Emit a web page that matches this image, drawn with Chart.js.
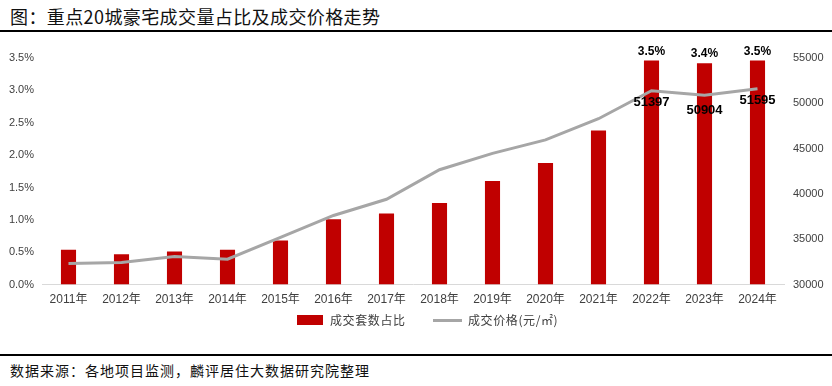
<!DOCTYPE html>
<html>
<head>
<meta charset="utf-8">
<script src="https://cdn.jsdelivr.net/npm/chart.js@4"></script>
<style>
  body { margin: 0; width: 832px; height: 386px; background: #fff; position: relative; overflow: hidden;
         font-family: "Liberation Sans", "Noto Sans CJK SC", sans-serif; }
  #title { position: absolute; left: 0; top: 0; width: 832px; height: 32px; border-bottom: 2px solid #000;
           font-size: 18px; line-height: 32px; padding-left: 10px; box-sizing: border-box; color: #111;
           letter-spacing: 0.4px; font-family: "Noto Sans CJK SC", sans-serif; }
  #box { position: absolute; left: 0; top: 34px; width: 832px; height: 285px; }
  #legend { position: absolute; left: 0; top: 312px; width: 832px; height: 16px; font-size: 12px;
            color: #404040; font-family: "Noto Sans CJK SC", sans-serif; letter-spacing: 0.6px; }
  #legend span { position: absolute; top: 0; line-height: 16px; white-space: nowrap; }
  #legend i { position: absolute; display: block; }
  #foot { position: absolute; left: 0; top: 354px; width: 832px; height: 32px; border-top: 2px solid #000;
          font-size: 14px; line-height: 28px; padding-left: 10px; box-sizing: border-box; color: #111;
          letter-spacing: 1px; font-family: "Noto Sans CJK SC", sans-serif; }
</style>
</head>
<body>
<div id="title">图：重点20城豪宅成交量占比及成交价格走势</div>
<div id="box"><canvas id="chart"></canvas></div>
<div id="legend"></div>
<div id="foot">数据来源：各地项目监测，麟评居住大数据研究院整理</div>
<script>
var years = ['2011年', '2012年', '2013年', '2014年', '2015年', '2016年', '2017年',
             '2018年', '2019年', '2020年', '2021年', '2022年', '2023年', '2024年'];
// share of luxury home transactions (%)
var shareValues = [0.54, 0.47, 0.51, 0.54, 0.68, 1.01, 1.10, 1.26, 1.60, 1.88, 2.38, 3.46, 3.42, 3.46];
// average price (yuan / m2)
var priceValues = [32330, 32450, 33100, 32800, 35200, 37630, 39410, 42670, 44480, 45960, 48300, 51397, 50904, 51595];
var shareTicks = [0, 0.5, 1.0, 1.5, 2.0, 2.5, 3.0, 3.5];
var priceTicks = [30000, 35000, 40000, 45000, 50000, 55000];
var seriesNames = ['成交套数占比', '成交价格(元/㎡)'];
var seriesColors = ['#C00000', '#A6A6A6'];
var labelFrom = 11; // only the last three years carry value labels

var valueLabels = {
    id: 'valueLabels',
    afterDatasetsDraw: function(chart) {
        var ctx = chart.ctx;
        var bars = chart.getDatasetMeta(0).data;
        var pts = chart.getDatasetMeta(1).data;
        ctx.save();
        ctx.textAlign = 'center';
        ctx.textBaseline = 'middle';
        ctx.fillStyle = '#000';
        for (var i = labelFrom; i < years.length; i++) {
            ctx.font = 'bold 12px "Liberation Sans"';
            ctx.fillText(shareValues[i].toFixed(1) + '%', bars[i].x, bars[i].y - 9);
            ctx.font = 'bold 13px "Liberation Sans"';
            ctx.fillText(String(priceValues[i]), pts[i].x, pts[i].y + (i === 12 ? 15 : 12));
        }
        ctx.restore();
    }
};

// simple html legend, spaced like the original
function buildLegend() {
    var el = document.getElementById('legend');
    var lefts = [297, 433];
    seriesNames.forEach(function(name, i) {
        var mark = document.createElement('i');
        mark.style.left = lefts[i] + 'px';
        mark.style.width = (i === 0 ? 26 : 29) + 'px';
        mark.style.height = (i === 0 ? 10 : 3) + 'px';
        mark.style.top = (i === 0 ? 3 : 7) + 'px';
        mark.style.background = seriesColors[i];
        el.appendChild(mark);
        var txt = document.createElement('span');
        txt.textContent = name;
        txt.style.left = (lefts[i] + (i === 0 ? 33 : 35)) + 'px';
        el.appendChild(txt);
    });
}
buildLegend();

var ctx = document.getElementById('chart');

var myChart = new Chart(ctx, {
    type: 'bar',
    data: {
        labels: years,
        datasets: [{
            label: seriesNames[0],
            data: shareValues,
            backgroundColor: seriesColors[0],
            yAxisID: 'y',
            categoryPercentage: 1,
            barPercentage: 0.285,
            order: 2
        }, {
            type: 'line',
            label: seriesNames[1],
            data: priceValues,
            borderColor: seriesColors[1],
            backgroundColor: seriesColors[1],
            borderWidth: 3,
            pointRadius: 0,
            tension: 0,
            yAxisID: 'y1',
            order: 1
        }]
    },
    options: {
        responsive: true,
        maintainAspectRatio: false,
        animation: false,
        layout: { padding: { top: 24, right: 0, left: 0, bottom: 4 } },
        plugins: {
            tooltip: { enabled: false },
            legend: { display: false }
        },
        scales: {
            x: {
                grid: { display: false, drawTicks: false },
                border: { display: true, color: '#D9D9D9', width: 1 },
                ticks: { color: '#404040', padding: 8, maxRotation: 0,
                         font: { size: 12, family: '"Liberation Sans", "Noto Sans CJK SC"' } }
            },
            y: {
                position: 'left',
                min: 0,
                max: 3.5,
                grid: { display: false, drawTicks: false },
                border: { display: false },
                afterFit: function(scale) { scale.width = 42; },
                afterBuildTicks: function(scale) {
                    scale.ticks = shareTicks.map(function(v) { return { value: v }; });
                },
                ticks: {
                    color: '#404040',
                    padding: 8,
                    font: { size: 11, family: '"Liberation Sans"' },
                    callback: function(v) { return v.toFixed(1) + '%'; }
                }
            },
            y1: {
                position: 'right',
                min: 30000,
                max: 55000,
                grid: { display: false, drawTicks: false },
                border: { display: false },
                afterFit: function(scale) { scale.width = 48; },
                afterBuildTicks: function(scale) {
                    scale.ticks = priceTicks.map(function(v) { return { value: v }; });
                },
                ticks: {
                    color: '#404040',
                    padding: 9,
                    font: { size: 11, family: '"Liberation Sans"' },
                    callback: function(v) { return String(v); }
                }
            }
        }
    },
    plugins: [valueLabels]
});
</script>
</body>
</html>
